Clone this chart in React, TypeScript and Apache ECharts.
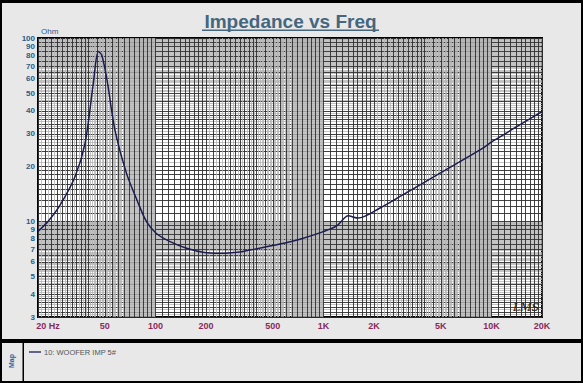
import React, { useEffect, useRef } from "react";
import * as echarts from "echarts";

// Impedance curve (Hz, Ohm)
const freqHz = [20, 23, 27, 33.2, 38.1, 42.7, 45.7, 47.9, 51.5, 57.4, 67.2, 77.5, 88.5, 101.3, 122.2, 153.5, 192.9, 242, 318, 366, 551, 725, 998, 1200, 1406, 1607, 2172, 3000, 5000, 8500, 10300, 20000];
const impedanceOhm = [8.8, 10.0, 12.2, 17.5, 26.6, 56.7, 84.4, 80.8, 59, 31.5, 18.3, 13.1, 9.94, 8.57, 7.74, 7.12, 6.76, 6.68, 6.8, 6.96, 7.5, 7.97, 8.77, 9.43, 10.7, 10.4, 11.8, 14.0, 18.4, 24.4, 27.5, 39.6];

// Axis labels
const xLabelValues = [20, 50, 100, 200, 500, 1000, 2000, 5000, 10000, 20000];
const yLabelValues = [3, 4, 5, 6, 7, 8, 9, 10, 20, 30, 40, 50, 60, 70, 80, 90, 100];

// Grid: dark lines at these multipliers of each decade, light lines at the other tenths
const darkTenths = [10, 11, 12, 13, 14, 15, 16, 17, 18, 19, 20, 22, 24, 26, 28, 30, 32, 34, 36, 38, 40, 45, 50, 55, 60, 65, 70, 75, 80, 85, 90, 95];
const xDecades = [1, 10, 100, 1000, 10000];
const yDecades = [0.1, 1, 10];

function gridValues(decades: number[], lo: number, hi: number, dark: boolean) {
  const out: number[] = [];
  decades.forEach((d) => {
    for (let t = 10; t < 100; t++) {
      const isDark = darkTenths.indexOf(t) >= 0;
      if (isDark !== dark) continue;
      const v = (t * d) / 10;
      if (v >= lo - 1e-9 && v <= hi + 1e-9) out.push(v);
    }
  });
  return out;
}

const L = (v: number) => Math.log10(v);

function fmtFreq(v: number) {
  const f = Math.round(Math.pow(10, v));
  if (f === 20) return "{first|20 Hz}";
  if (f >= 1000) return f / 1000 + "K";
  return String(f);
}

const FONT = "Arial, 'Liberation Sans', sans-serif";

export default function App() {
  const ref = useRef<HTMLDivElement>(null);
  useEffect(() => {
    if (!ref.current) return;
    const chart = echarts.init(ref.current, null, { renderer: "svg" });
    const data = freqHz.map((f, i) => [L(f), L(impedanceOhm[i])]);
    const xDark = gridValues(xDecades, 20, 20000, true).concat([20000]);
    const xLight = gridValues(xDecades, 20, 20000, false);
    const yDark = gridValues(yDecades, 3, 100, true).concat([100]);
    const yLight = gridValues(yDecades, 3, 100, false);
    const hiddenAxisBase = {
      type: "value",
      axisLine: { show: false },
      axisLabel: { show: false },
    };
    chart.setOption({
      animation: false,
      backgroundColor: "#e8e8e8",
      grid: {
        left: 38,
        top: 38,
        width: 504,
        height: 279,
        show: true,
        backgroundColor: "#ffffff",
        borderColor: "#000000",
        borderWidth: 2,
        z: 0,
      },
      xAxis: [
        {
          ...hiddenAxisBase,
          min: L(20),
          max: L(20000),
          position: "top",
          axisTick: { show: false, customValues: xLight.map(L) },
          splitLine: { show: true, lineStyle: { color: "#b4b4b4", width: 0.8 } },
        },
        {
          type: "value",
          min: L(20),
          max: L(20000),
          position: "bottom",
          axisLine: { show: false },
          axisTick: { show: false, customValues: xDark.map(L) },
          splitLine: { show: true, lineStyle: { color: "#2e2e2e", width: 0.9 } },
          axisLabel: {
            customValues: xLabelValues.map(L),
            formatter: fmtFreq,
            color: "#8a2a5c",
            fontFamily: FONT,
            fontSize: 9,
            fontWeight: "bold",
            margin: 4,
            showMinLabel: true,
            showMaxLabel: true,
            hideOverlap: false,
            rich: {
              first: {
                color: "#8a2a5c",
                fontFamily: FONT,
                fontSize: 9,
                fontWeight: "bold",
                padding: [0, 0, 0, 20],
              },
            },
          },
        },
      ],
      yAxis: [
        {
          ...hiddenAxisBase,
          min: L(3),
          max: L(100),
          position: "right",
          axisTick: { show: false, customValues: yLight.map(L) },
          splitLine: { show: true, lineStyle: { color: "#b4b4b4", width: 0.8 } },
        },
        {
          type: "value",
          min: L(3),
          max: L(100),
          position: "left",
          axisLine: { show: false },
          axisTick: { show: false, customValues: yDark.map(L) },
          splitLine: { show: true, lineStyle: { color: "#2e2e2e", width: 0.9 } },
          axisLabel: {
            customValues: yLabelValues.map(L),
            formatter: (v: number) => String(Math.round(Math.pow(10, v))),
            color: "#2b5b8c",
            fontFamily: FONT,
            fontSize: 8,
            lineHeight: 7,
            fontWeight: "bold",
            margin: 3,
            showMinLabel: true,
            showMaxLabel: true,
            hideOverlap: false,
          },
        },
      ],
      series: [
        {
          type: "line",
          name: "10: WOOFER IMP 5#",
          xAxisIndex: 1,
          yAxisIndex: 1,
          data,
          smooth: 0.3,
          showSymbol: false,
          symbol: "none",
          lineStyle: { color: "#1c1c52", width: 1.5 },
          z: 5,
        },
      ],
      graphic: [
        { type: "rect", shape: { x: 0, y: 0, width: 583, height: 3 }, style: { fill: "#000" } },
        { type: "rect", shape: { x: 0, y: 0, width: 2, height: 383 }, style: { fill: "#000" } },
        { type: "rect", shape: { x: 581, y: 0, width: 2, height: 383 }, style: { fill: "#000" } },
        { type: "rect", shape: { x: 0, y: 339, width: 583, height: 4 }, style: { fill: "#000" } },
        { type: "rect", shape: { x: 0, y: 381, width: 583, height: 2 }, style: { fill: "#000" } },
        { type: "rect", shape: { x: 22.5, y: 343, width: 1.5, height: 38 }, style: { fill: "#000" } },
        {
          type: "text",
          x: 290.5,
          y: 21.5,
          style: {
            text: "Impedance vs Freq",
            fill: "#44667e",
            font: "bold 19px " + FONT,
            align: "center",
            verticalAlign: "middle",
          },
        },
        { type: "rect", shape: { x: 202, y: 29.5, width: 177, height: 1.4 }, style: { fill: "#44667e" } },
        {
          type: "text",
          x: 41,
          y: 31.5,
          style: {
            text: "Ohm",
            fill: "#2b5b8c",
            font: "8px " + FONT,
            verticalAlign: "middle",
          },
        },
        {
          type: "text",
          x: 513,
          y: 307,
          z: 10,
          style: {
            text: "LMS",
            fill: "#1a1a1a",
            font: "italic 11px 'DejaVu Serif', serif",
            verticalAlign: "middle",
          },
        },
        {
          type: "text",
          x: 11,
          y: 361,
          rotation: Math.PI / 2,
          style: {
            text: "Map",
            fill: "#3a5a9a",
            font: "bold 7px " + FONT,
            align: "center",
            verticalAlign: "middle",
          },
        },
        { type: "line", shape: { x1: 29, y1: 352, x2: 41, y2: 352 }, style: { stroke: "#1c1c52", lineWidth: 1.3 } },
        {
          type: "text",
          x: 44,
          y: 352,
          style: {
            text: "10: WOOFER IMP 5#",
            fill: "#555",
            font: "7.5px " + FONT,
            verticalAlign: "middle",
          },
        },
      ],
    });
    return () => chart.dispose();
  }, []);
  return (
    <div
      ref={ref}
      style={{ position: "fixed", left: 0, top: 0, width: 583, height: 383 }}
    />
  );
}
